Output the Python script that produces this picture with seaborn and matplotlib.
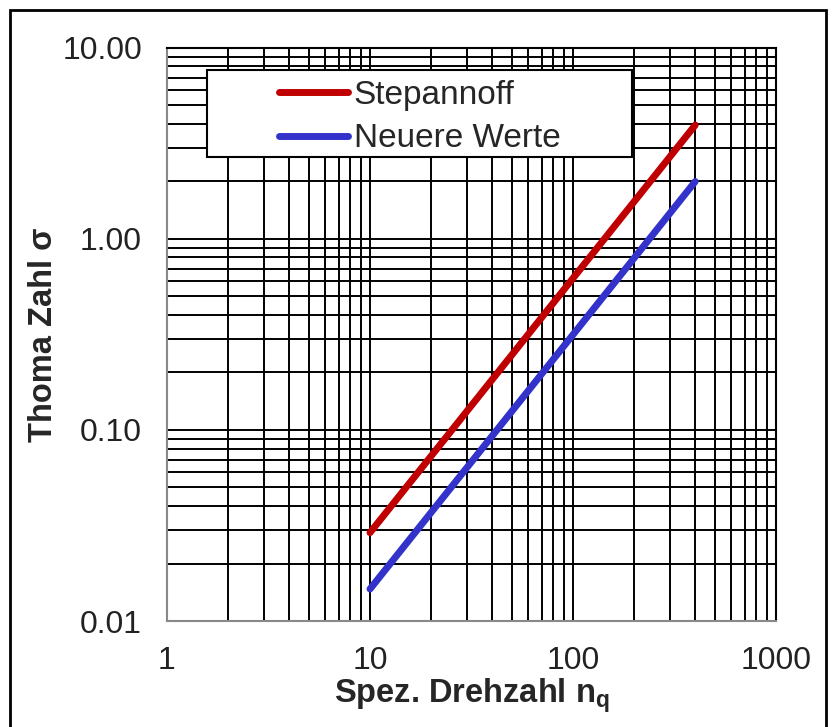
import numpy as np
import pandas as pd
import seaborn as sns
import matplotlib.pyplot as plt
from matplotlib.patches import Rectangle
from matplotlib.ticker import FixedLocator, FixedFormatter, LogLocator, NullFormatter

# Endpoints (straight lines on log-log axes)
nq = [10, 400]
stepannoff = [0.029, 3.95]
neuere_werte = [0.0147, 2.0]

x_ticks = [1, 10, 100, 1000]
x_labels = ['1', '10', '100', '1000']
y_ticks = [0.01, 0.1, 1, 10]
y_labels = ['0.01', '0.10', '1.00', '10.00']

sns.set_style('white')
plt.rcParams['font.family'] = ['Liberation Sans', 'DejaVu Sans']

df = pd.DataFrame({
    'nq': nq * 2,
    'sigma': stepannoff + neuere_werte,
    'Reihe': ['Stepannoff'] * 2 + ['Neuere Werte'] * 2,
})

fig = plt.figure(figsize=(8.34, 7.27), dpi=100)
ax = fig.add_axes([0.2002, 0.1458, 0.7303, 0.7882])

sns.lineplot(data=df, x='nq', y='sigma', hue='Reihe',
             palette={'Stepannoff': '#C00000', 'Neuere Werte': '#3333CC'},
             linewidth=5, ax=ax, zorder=4, legend=True)

ax.set(xscale='log', yscale='log', xlim=(1, 1000), ylim=(0.01, 10))
ax.xaxis.set_major_locator(FixedLocator(x_ticks))
ax.xaxis.set_major_formatter(FixedFormatter(x_labels))
ax.yaxis.set_major_locator(FixedLocator(y_ticks))
ax.yaxis.set_major_formatter(FixedFormatter(y_labels))
ax.xaxis.set_minor_locator(LogLocator(base=10, subs=np.arange(2, 10)))
ax.yaxis.set_minor_locator(LogLocator(base=10, subs=np.arange(2, 10)))
ax.xaxis.set_minor_formatter(NullFormatter())
ax.yaxis.set_minor_formatter(NullFormatter())

ax.grid(True, which='both', color='black', linewidth=1.4)
ax.tick_params(which='major', direction='out', length=7, width=1.2,
               color='#888888', labelsize=23, labelcolor='#222222', pad=11)
ax.tick_params(which='minor', length=0)
for s in ['left', 'bottom']:
    ax.spines[s].set_color('#888888')
    ax.spines[s].set_linewidth(1.5)
for s in ['top', 'right']:
    ax.spines[s].set_color('black')
    ax.spines[s].set_linewidth(1.5)

ax.set_xlabel('Spez. Drehzahl n$_\\mathregular{q}$', fontsize=23.5,
              fontweight='bold', labelpad=0)
ax.set_ylabel('Thoma Zahl σ', fontsize=23.5, fontweight='bold', labelpad=2)

# legend box
ax.add_patch(Rectangle((0.0657, 0.8098), 0.698, 0.1518, transform=ax.transAxes,
                       facecolor='white', edgecolor='black', linewidth=1.5,
                       zorder=3))
handles, labels = ax.get_legend_handles_labels()
leg = ax.legend(handles, labels, loc='upper left',
                bbox_to_anchor=(0.151, 0.9795), frameon=False, fontsize=24,
                handlelength=2.07, handletextpad=0.18, labelspacing=0.38,
                borderpad=0.1)
leg.set_zorder(5)

# frame around the whole picture
fig.add_artist(Rectangle((10 / 834, -0.05), 816 / 834, 1.05 - 10 / 727,
                         transform=fig.transFigure, fill=False,
                         edgecolor='black', linewidth=2))

fig.savefig('out.png', dpi=100)
